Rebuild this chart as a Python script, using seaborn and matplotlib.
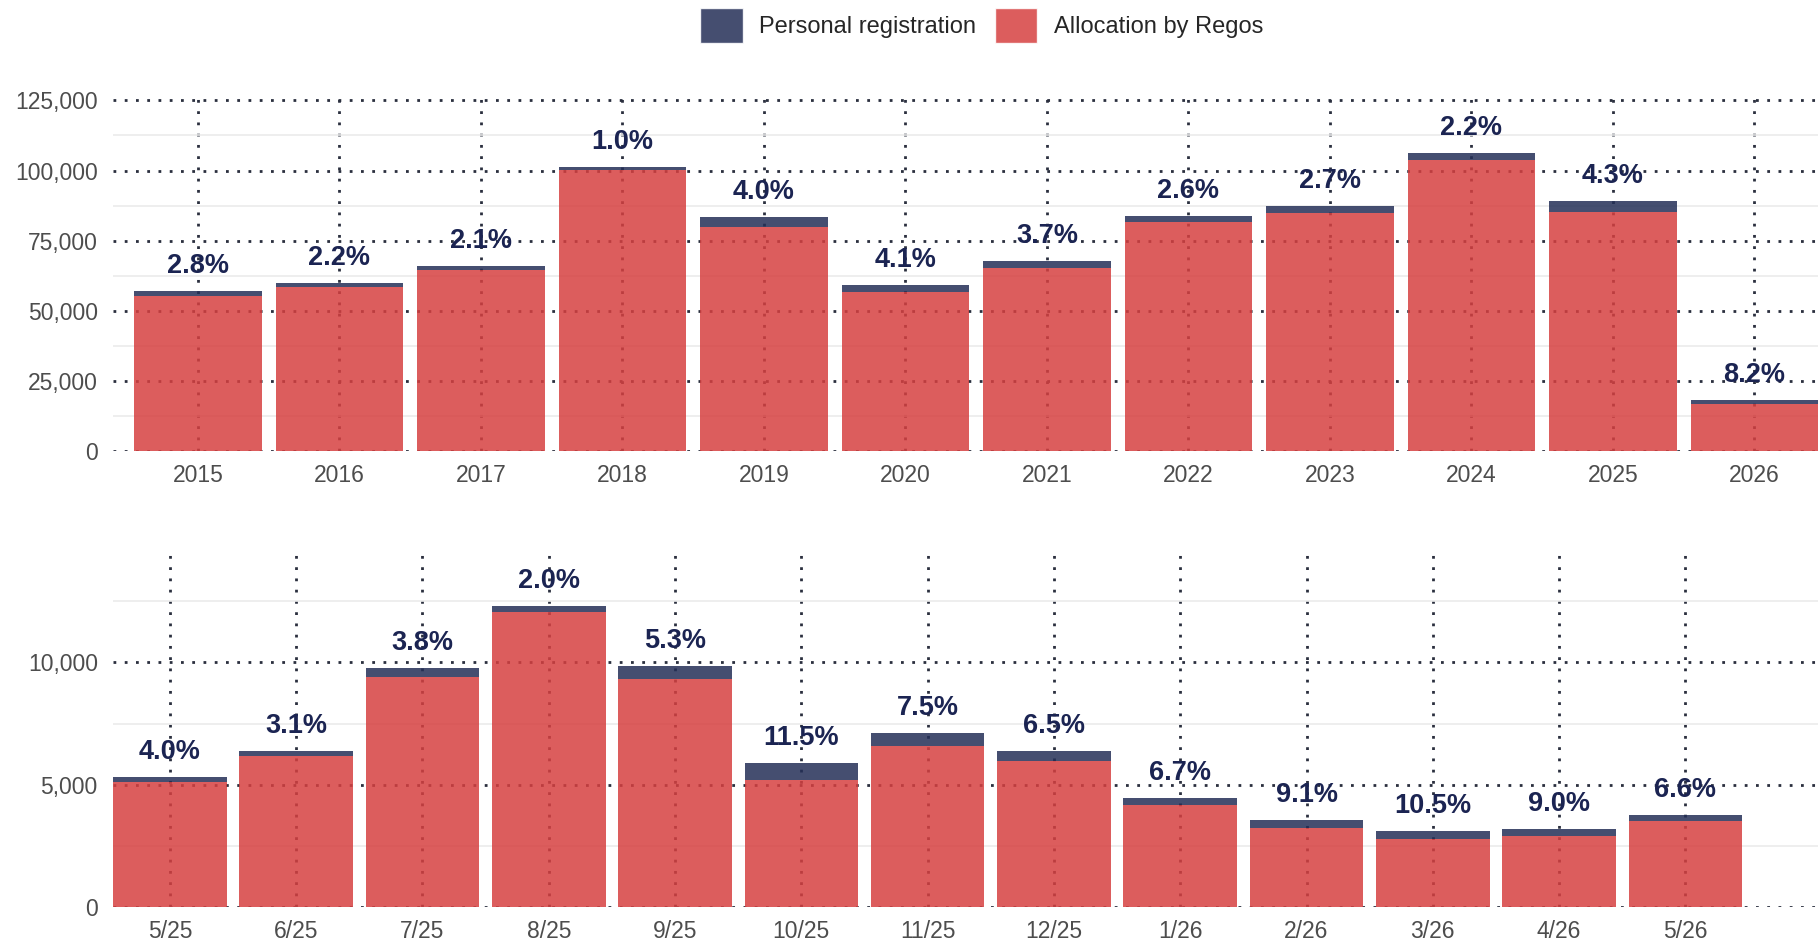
import matplotlib
matplotlib.use("Agg")
import matplotlib.pyplot as plt
import matplotlib.ticker as mticker
from matplotlib.patches import Patch
import pandas as pd
import seaborn as sns

# yearly totals
years = ["2015", "2016", "2017", "2018", "2019", "2020",
         "2021", "2022", "2023", "2024", "2025", "2026"]
year_alloc = [55400, 58680, 64520, 100090, 79970, 56680,
              65200, 81520, 84850, 103770, 85170, 16710]
year_personal = [1600, 1320, 1380, 1010, 3330, 2420,
                 2500, 2180, 2350, 2330, 3830, 1490]

# monthly totals, last 13 months
months = ["5/25", "6/25", "7/25", "8/25", "9/25", "10/25", "11/25",
          "12/25", "1/26", "2/26", "3/26", "4/26", "5/26"]
month_alloc = [5107, 6182, 9399, 12054, 9328, 5213, 6577,
               5965, 4161, 3236, 2783, 2912, 3521]
month_personal = [213, 198, 371, 246, 522, 677, 533,
                  415, 299, 324, 327, 288, 249]

RED = "#D64040"
BLUE = "#242F57"
ALPHA = 0.85
LABEL = "#1B2452"
GRID = "#2A2F3E"
DOTS = (0, (1, 3.05))


def draw_panel(ax, labels, alloc, personal, ymax, major, xlim):
    df = pd.DataFrame({"period": labels, "alloc": alloc, "personal": personal})
    df["total"] = df["alloc"] + df["personal"]
    sns.barplot(data=df, x="period", y="alloc", color=RED, alpha=ALPHA,
                width=0.9, errorbar=None, saturation=1, linewidth=0,
                ax=ax, zorder=3)
    pos = range(len(df))
    ax.bar(pos, df["personal"], bottom=df["alloc"], width=0.9,
           color=BLUE, alpha=ALPHA, zorder=3, linewidth=0)
    for p, tot, pers in zip(pos, df["total"], df["personal"]):
        ax.annotate(f"{pers / tot * 100:.1f}%", (p, tot), xytext=(0, 13),
                    textcoords="offset points", ha="center", va="baseline",
                    fontsize=19.5, fontweight="bold", color=LABEL, zorder=5)

    ax.set_ylim(0, ymax)
    ax.set_xlim(*xlim)
    ax.yaxis.set_major_locator(mticker.MultipleLocator(major))
    ax.yaxis.set_minor_locator(mticker.MultipleLocator(major / 2))
    ax.yaxis.set_major_formatter(mticker.StrMethodFormatter("{x:,.0f}"))
    ax.set_axisbelow(True)
    ax.grid(axis="y", which="minor", color="#EBEBEB", linewidth=1.2, linestyle="-")
    ax.grid(axis="both", which="major", color=GRID, linewidth=2, linestyle=DOTS)
    for line in ax.get_xgridlines() + ax.get_ygridlines():
        line.set_dash_capstyle("butt")
    ax.tick_params(axis="both", which="both", length=0, labelsize=16.5, colors="#4D4D4D")
    ax.tick_params(axis="y", pad=11)
    ax.tick_params(axis="x", pad=9)
    ax.set_xlabel("")
    ax.set_ylabel("")
    sns.despine(ax=ax, left=True, bottom=True)


sns.set_theme(style="white")
plt.rcParams["font.family"] = ["Liberation Sans", "DejaVu Sans"]

fig = plt.figure(figsize=(18.18, 9.42), dpi=100)
ax_top = fig.add_axes([0.0622, 0.521, 0.9378, 0.376])
ax_bot = fig.add_axes([0.0622, 0.037, 0.9378, 0.376])

draw_panel(ax_top, years, year_alloc, year_personal, 126200, 25000, (-0.6, 11.45))
draw_panel(ax_bot, months, month_alloc, month_personal, 14470, 5000, (-0.45, 13.05))

handles = [Patch(facecolor=BLUE, alpha=ALPHA, label="Personal registration"),
           Patch(facecolor=RED, alpha=ALPHA, label="Allocation by Regos")]
fig.legend(handles=handles, loc="upper center", bbox_to_anchor=(0.540, 1.014),
           ncol=2, frameon=False, fontsize=17, handlelength=1.8, handleheight=1.9,
           handletextpad=0.7, columnspacing=0.8)

fig.savefig("out.png", dpi=100)
